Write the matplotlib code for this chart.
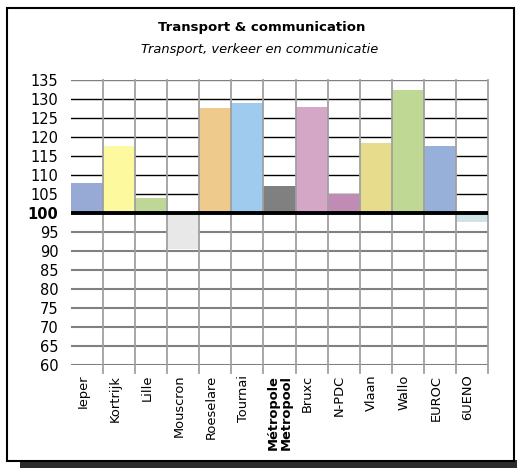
import matplotlib.pyplot as plt
from matplotlib.patches import Rectangle
from matplotlib.transforms import ScaledTranslation
import numpy as np

categories = ["Ieper", "Kortrijk", "Lille", "Mouscron", "Roeselare", "Tournai",
              "Métropole\nMetropool", "Bruxc", "N-PDC", "Vlaan", "Wallo", "EUROC", "6UENO"]
values = [108, 117.7, 104, 90.5, 127.7, 128.9, 107.1, 127.9, 105, 118.4, 132.4, 117.6, 97.7]
colors = ["#97A9D5", "#FDF99E", "#BFD796", "#E8E8E8", "#EECB8C", "#9FCBEF", "#808080",
          "#D4A7C6", "#C08CB4", "#E6DC8B", "#BFD893", "#97B0DA", "#CFE3E6"]
yticks = list(range(60, 140, 5))

fig = plt.figure(figsize=(5.17, 4.68), dpi=100)

# frame with shadow
fig.patches.append(Rectangle((20 / 517, 0), 497 / 517, 8 / 468, transform=fig.transFigure,
                             facecolor="#2b2b2b", edgecolor="none", zorder=0))
fig.patches.append(Rectangle((7 / 517, 7 / 468), 507 / 517, 453 / 468, transform=fig.transFigure,
                             facecolor="white", edgecolor="black", linewidth=1.5, zorder=1))

ax = fig.add_axes([71 / 517, 1 - 365 / 468, 417 / 517, 285 / 468])
ax.set_zorder(2)
ax.patch.set_alpha(0)

x = np.arange(len(categories))
base = 100
ax.bar(x, [v - base for v in values], bottom=base, width=1.0, color=colors, zorder=2)

# horizontal grid
for t in yticks:
    if t == 100:
        continue
    if t > 100:
        c = "#808080" if t == 135 else "black"
        lw = 1.0
    else:
        c = "#808080"
        lw = 1.5
    ax.axhline(t, color=c, linewidth=lw, zorder=1)
ax.axhline(100, color="black", linewidth=2.8, zorder=4)

# vertical grid
for b in np.arange(0.5, len(categories), 1):
    ax.plot([b, b], [58, 135], color="#A0A0A0", linewidth=1.3, zorder=3, clip_on=False)

ax.set_xlim(-0.5, len(categories) - 0.5)
ax.set_ylim(60, 135)
for s in ax.spines.values():
    s.set_visible(False)

ax.set_yticks(yticks)
ax.set_yticklabels([str(t) for t in yticks], fontsize=10.5)
for lab in ax.get_yticklabels():
    if lab.get_text() == "100":
        lab.set_fontweight("bold")
ax.tick_params(axis="y", length=0, pad=9)

ax.set_xticks(x)
ax.set_xticklabels(categories, rotation=90, fontsize=9.4, linespacing=0.95)
ax.tick_params(axis="x", length=0, pad=7)
shift = ScaledTranslation(-4 / 100, 0, fig.dpi_scale_trans)
for lab in ax.get_xticklabels():
    if lab.get_text().startswith("Métropole"):
        lab.set_fontweight("bold")
    else:
        lab.set_transform(lab.get_transform() + shift)

fig.text(262 / 517, 1 - 28 / 468, "Transport & communication", ha="center", va="center",
         fontsize=9.5, fontweight="bold")
fig.text(260 / 517, 1 - 50 / 468, "Transport, verkeer en communicatie", ha="center", va="center",
         fontsize=9.4, style="italic")

plt.savefig("out.png", dpi=100)
